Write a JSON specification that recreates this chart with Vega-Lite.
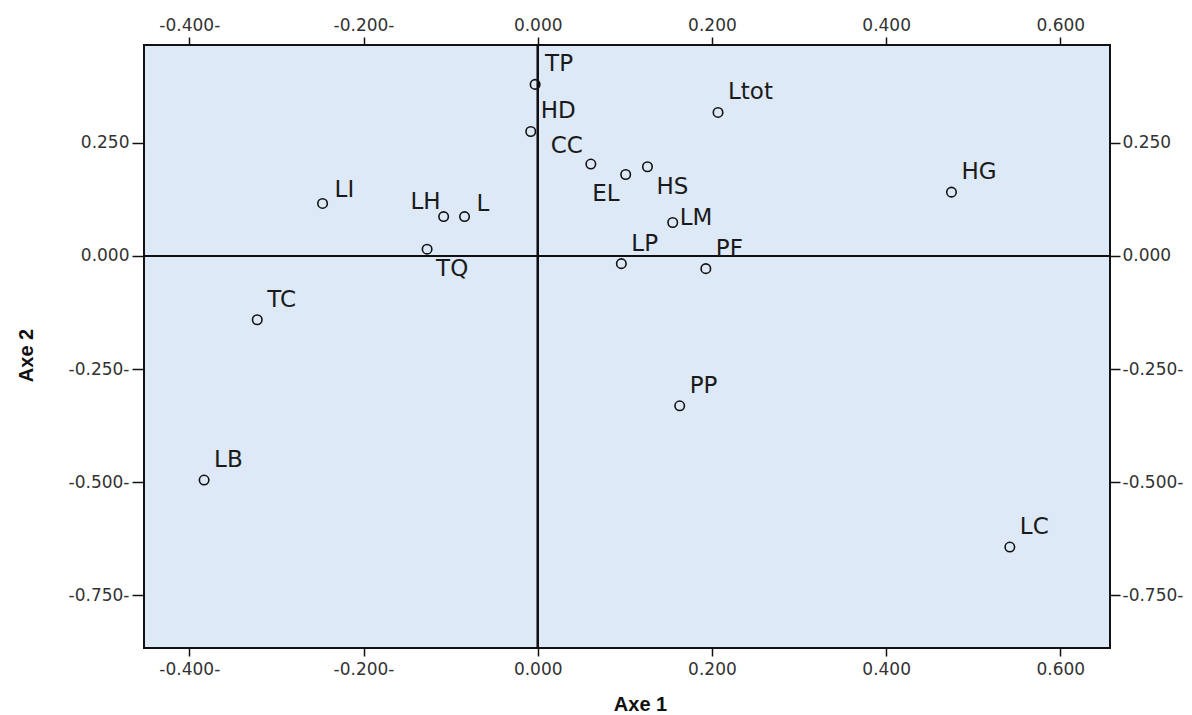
{
  "$schema": "https://vega.github.io/schema/vega-lite/v6.json",
  "width": 966,
  "height": 603,
  "autosize": {"type": "none"},
  "padding": {"left": 144, "top": 45, "right": 82, "bottom": 67},
  "background": "white",
  "data": {
    "values": [
      {"name": "TP", "axe1": -0.003, "axe2": 0.379},
      {"name": "HD", "axe1": -0.008, "axe2": 0.275},
      {"name": "CC", "axe1": 0.061, "axe2": 0.203},
      {"name": "EL", "axe1": 0.101, "axe2": 0.180},
      {"name": "HS", "axe1": 0.126, "axe2": 0.197},
      {"name": "Ltot", "axe1": 0.207, "axe2": 0.317},
      {"name": "HG", "axe1": 0.475, "axe2": 0.141},
      {"name": "LI", "axe1": -0.247, "axe2": 0.116},
      {"name": "LH", "axe1": -0.108, "axe2": 0.087},
      {"name": "L", "axe1": -0.084, "axe2": 0.087},
      {"name": "LM", "axe1": 0.155, "axe2": 0.074},
      {"name": "TQ", "axe1": -0.127, "axe2": 0.015},
      {"name": "LP", "axe1": 0.096, "axe2": -0.017},
      {"name": "PF", "axe1": 0.193, "axe2": -0.028},
      {"name": "TC", "axe1": -0.322, "axe2": -0.141},
      {"name": "PP", "axe1": 0.163, "axe2": -0.331},
      {"name": "LB", "axe1": -0.383, "axe2": -0.495},
      {"name": "LC", "axe1": 0.542, "axe2": -0.643}
    ]
  },
  "config": {
    "view": {"fill": "#dde9f7", "stroke": "#111", "strokeWidth": 2},
    "axis": {
      "domain": false,
      "grid": false,
      "tickColor": "#111",
      "tickWidth": 1.5,
      "labelFont": "DejaVu Sans",
      "labelFontSize": 17,
      "labelColor": "#333",
      "titleFont": "Liberation Sans",
      "titleFontSize": 20,
      "titleFontWeight": "bold",
      "titleColor": "#111"
    }
  },
  "resolve": {"axis": {"x": "independent", "y": "independent"}},
  "layer": [
    {
      "mark": {"type": "rule", "color": "#111", "strokeWidth": 1.5},
      "encoding": {
        "x": {
          "datum": 0,
          "type": "quantitative",
          "scale": {"domain": [-0.452, 0.657], "nice": false, "zero": false},
          "axis": {
            "orient": "top",
            "title": null,
            "values": [-0.4, -0.2, 0, 0.2, 0.4, 0.6],
            "tickSize": 8,
            "labelPadding": 3,
            "labelExpr": "datum.value < 0 ? '-' + format(-datum.value, '.3f') + '-' : format(datum.value, '.3f')"
          }
        }
      }
    },
    {
      "mark": {"type": "rule", "color": "#111", "strokeWidth": 1.5},
      "encoding": {
        "y": {
          "datum": 0,
          "type": "quantitative",
          "scale": {"domain": [-0.866, 0.466], "nice": false, "zero": false},
          "axis": {
            "orient": "right",
            "title": null,
            "values": [0.25, 0, -0.25, -0.5, -0.75],
            "tickSize": 10,
            "labelPadding": 2,
            "labelExpr": "datum.value < 0 ? '-' + format(-datum.value, '.3f') + '-' : format(datum.value, '.3f')"
          }
        }
      }
    },
    {
      "mark": {"type": "point", "shape": "circle", "filled": false, "size": 90, "stroke": "#111", "strokeWidth": 1.6, "opacity": 1},
      "encoding": {
        "x": {
          "field": "axe1",
          "type": "quantitative",
          "scale": {"domain": [-0.452, 0.657], "nice": false, "zero": false},
          "axis": {
            "orient": "bottom",
            "title": "Axe 1",
            "values": [-0.4, -0.2, 0, 0.2, 0.4, 0.6],
            "tickSize": 8,
            "labelPadding": 5,
            "labelExpr": "datum.value < 0 ? '-' + format(-datum.value, '.3f') + '-' : format(datum.value, '.3f')",
            "titleX": 496,
            "titleY": 56,
            "titleBaseline": "middle"
          }
        },
        "y": {
          "field": "axe2",
          "type": "quantitative",
          "scale": {"domain": [-0.866, 0.466], "nice": false, "zero": false},
          "axis": {
            "orient": "left",
            "title": "Axe 2",
            "values": [0.25, 0, -0.25, -0.5, -0.75],
            "tickSize": 12,
            "labelPadding": 3,
            "labelExpr": "datum.value < 0 ? '-' + format(-datum.value, '.3f') + '-' : format(datum.value, '.3f')",
            "titleX": -118,
            "titleY": 310,
            "titleBaseline": "middle"
          }
        }
      }
    },
    {
      "transform": [{"filter": {"field": "name", "oneOf": ["TP", "HD", "Ltot", "HG", "TC", "PP", "LB", "LC", "LP", "PF"]}}],
      "mark": {"type": "text", "align": "left", "baseline": "middle", "dx": 10, "dy": -20, "font": "DejaVu Sans", "fontSize": 23, "color": "#1a1a1a"},
      "encoding": {
        "x": {"field": "axe1", "type": "quantitative", "axis": null},
        "y": {"field": "axe2", "type": "quantitative", "axis": null},
        "text": {"field": "name"}
      }
    },
    {
      "transform": [{"filter": {"field": "name", "oneOf": ["LI", "L"]}}],
      "mark": {"type": "text", "align": "left", "baseline": "middle", "dx": 12, "dy": -13, "font": "DejaVu Sans", "fontSize": 23, "color": "#1a1a1a"},
      "encoding": {
        "x": {"field": "axe1", "type": "quantitative", "axis": null},
        "y": {"field": "axe2", "type": "quantitative", "axis": null},
        "text": {"field": "name"}
      }
    },
    {
      "transform": [{"filter": {"field": "name", "oneOf": ["LM"]}}],
      "mark": {"type": "text", "align": "left", "baseline": "middle", "dx": 7, "dy": -4, "font": "DejaVu Sans", "fontSize": 23, "color": "#1a1a1a"},
      "encoding": {
        "x": {"field": "axe1", "type": "quantitative", "axis": null},
        "y": {"field": "axe2", "type": "quantitative", "axis": null},
        "text": {"field": "name"}
      }
    },
    {
      "transform": [{"filter": {"field": "name", "oneOf": ["LH"]}}],
      "mark": {"type": "text", "align": "right", "baseline": "middle", "dx": -3, "dy": -15, "font": "DejaVu Sans", "fontSize": 23, "color": "#1a1a1a"},
      "encoding": {
        "x": {"field": "axe1", "type": "quantitative", "axis": null},
        "y": {"field": "axe2", "type": "quantitative", "axis": null},
        "text": {"field": "name"}
      }
    },
    {
      "transform": [{"filter": {"field": "name", "oneOf": ["CC"]}}],
      "mark": {"type": "text", "align": "right", "baseline": "middle", "dx": -8, "dy": -18, "font": "DejaVu Sans", "fontSize": 23, "color": "#1a1a1a"},
      "encoding": {
        "x": {"field": "axe1", "type": "quantitative", "axis": null},
        "y": {"field": "axe2", "type": "quantitative", "axis": null},
        "text": {"field": "name"}
      }
    },
    {
      "transform": [{"filter": {"field": "name", "oneOf": ["EL"]}}],
      "mark": {"type": "text", "align": "right", "baseline": "middle", "dx": -6, "dy": 20, "font": "DejaVu Sans", "fontSize": 23, "color": "#1a1a1a"},
      "encoding": {
        "x": {"field": "axe1", "type": "quantitative", "axis": null},
        "y": {"field": "axe2", "type": "quantitative", "axis": null},
        "text": {"field": "name"}
      }
    },
    {
      "transform": [{"filter": {"field": "name", "oneOf": ["HS", "TQ"]}}],
      "mark": {"type": "text", "align": "left", "baseline": "middle", "dx": 9, "dy": 20, "font": "DejaVu Sans", "fontSize": 23, "color": "#1a1a1a"},
      "encoding": {
        "x": {"field": "axe1", "type": "quantitative", "axis": null},
        "y": {"field": "axe2", "type": "quantitative", "axis": null},
        "text": {"field": "name"}
      }
    }
  ]
}
